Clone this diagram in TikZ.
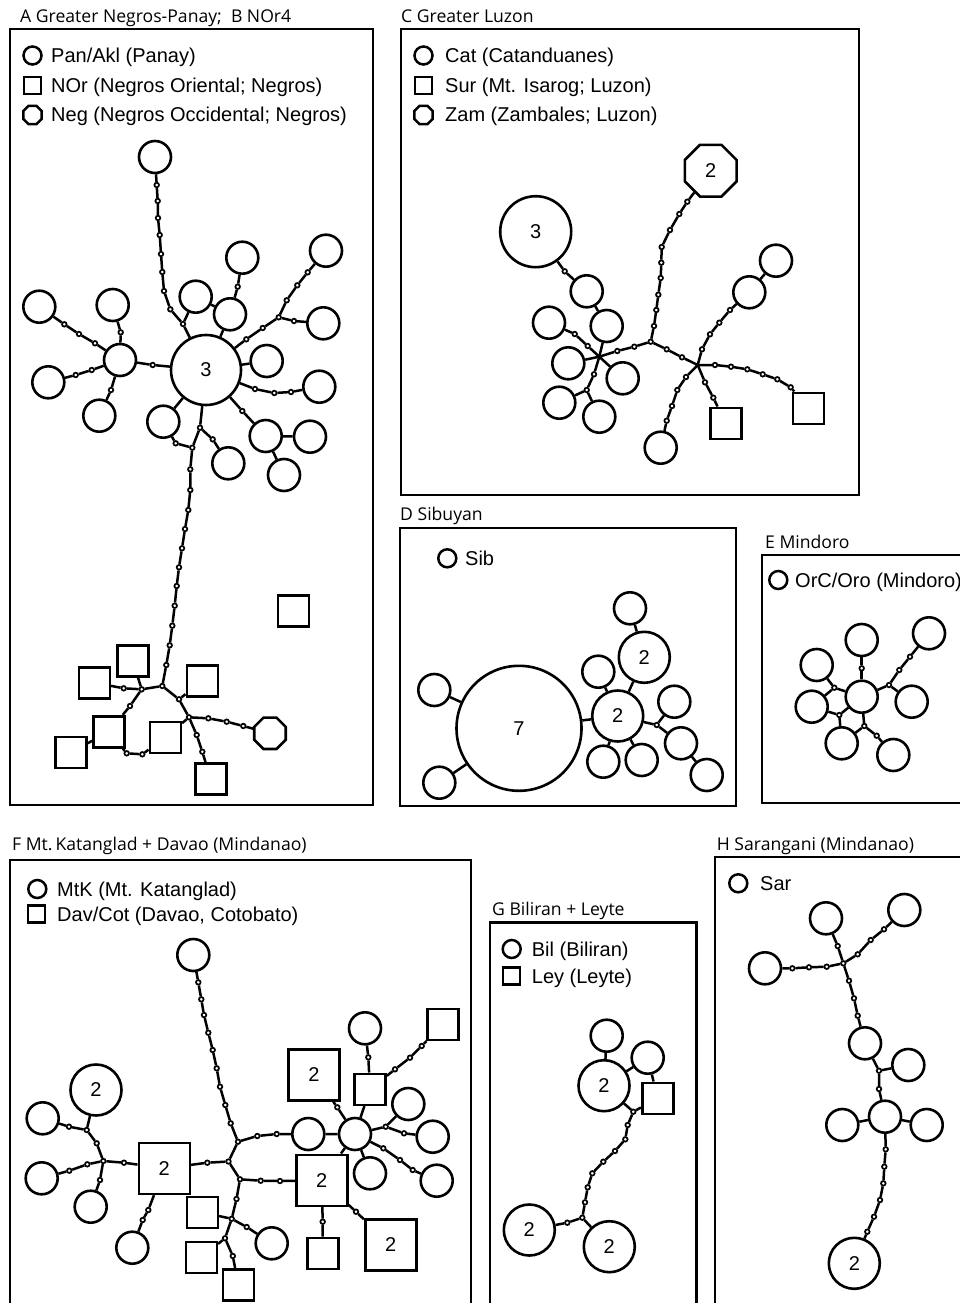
\documentclass[tikz,border=0pt]{standalone}
\usepackage{fontspec}
\setmainfont{Liberation Sans}
\newfontfamily\titlefont{Open Sans}
\usetikzlibrary{shapes.geometric}
\begin{document}
\begin{tikzpicture}[x=1pt,y=-1pt,
  every node/.style={font=\fontsize{20}{24}\selectfont},
  hc/.style={circle,draw,line width=2.6pt,minimum size=32pt,inner sep=0pt,fill=white},
  hcb/.style={hc,minimum size=51pt},
  hsq/.style={rectangle,draw,line width=2.6pt,minimum size=31pt,inner sep=0pt,fill=white},
  hsqb/.style={hsq,minimum size=51pt},
  hoct/.style={regular polygon,regular polygon sides=8,draw,line width=2.6pt,minimum size=34pt,inner sep=0pt,fill=white},
  mu/.style={circle,draw,line width=1.7pt,minimum size=4.6pt,inner sep=0pt,fill=white},
  lnk/.style={line width=2.5pt},
  pfr/.style={line width=2.6pt},
  ttl/.style={anchor=base west,inner sep=0pt,font=\titlefont\fontsize{17.6}{21}\selectfont},
  lgt/.style={anchor=base west,inner sep=0pt},
  lc/.style={circle,draw,line width=2.5pt,minimum size=18pt,inner sep=0pt},
  ls/.style={rectangle,draw,line width=2.5pt,minimum size=17pt,inner sep=0pt},
  lo/.style={regular polygon,regular polygon sides=8,draw,line width=2.5pt,minimum size=20pt,inner sep=0pt},
]
\useasboundingbox (0,0) rectangle (959,1303);
\fill[white] (0,0) rectangle (959,1303);

%================ PANEL A =================
\draw[pfr] (10,29) rectangle (373,805);
\node[ttl] (tA) at (20,23) {A Greater Negros-Panay;\ \ B NOr4};
\node[lc] (lA1) at (32.5,55.5) {};
\node[lgt] (tA1) at (51,62.5) {Pan/Akl (Panay)};
\node[ls] (lA2) at (32.5,85.5) {};
\node[lgt] (tA2) at (51,92.5) {NOr (Negros Oriental; Negros)};
\node[lo] (lA3) at (32.5,115) {};
\node[lgt] (tA3) at (51,122) {Neg (Negros Occidental; Negros)};

\node[hc] (aTop) at (155,157) {};
\node[hc,minimum size=70pt] (aBig) at (206,370) {3};
\foreach \n/\x/\y in {aT1/156.7/185,aT2/157.7/201,aT3/158/218,aT4/159.7/235,aT5/161/254,aT6/162.3/272,aT7/164/291,aT8/170.3/309.3,aT9/183/324,
  aPd/237.7/286.7,aR1/246.3/339.3,aR2/262.7/328,aR3/278.7/317.3,aR4/294/321,aR5/286.7/300.3,aR6/297.3/285.3,aR7/307.7/272.3,
  aE1/255/389,aE2/274.3/393,aE3/291/392,aF1/242.3/411,aL1/200/427.7,aL2/212.7/439.3,aJ/192.3/447.7,aL3/175.7/443.3,
  aQd/152.7/365,aQ1/120.7/332.3,aQ2/95/343.3,aQ3/79/334,aQ4/64.3/324.3,aQ5/91.7/370,aQ6/75.7/375,aQ7/111/390,
  aM1/190.3/469.3,aM2/190.3/490,aM3/188.3/510,aM4/185/529,aM5/182/548.3,aM6/179/567.3,aM7/176.7/586,aM8/174.7/605.7,aM9/172.3/625.7,aM10/169.7/645.3,aM11/166.3/665,
  aB1/162.3/686,aB2/141.7/689.3,aB5/123.7/688.3,aB6/130/706,aB7/126.7/753.3,aB8/142.3/754.3,aB3/179/699.3,aB4/189/717.3,
  aG1/208.3/718.3,aG2/226.7/721.7,aG3/243.3/726,aH1/196.7/735,aH2/202.3/751.7}
  \node[mu] (\n) at (\x,\y) {};
\foreach \n/\x/\y in {aP1/195.7/296.7,aP2/230/314.3,aP3/242.3/257.7,aC1/323.3/323.3,aC2/326/250.7,aC3/266.7/361,aC4/319.3/386.7,
  aC5/265.7/436,aC6/310/436.7,aC7/284/475,aC8/228.3/463.3,aC9/163.3/421.7,aQ/120/360,aC10/112.7/305,aC11/39.3/306.7,aC12/48.3/382.3,aC13/99.3/415.7}
  \node[hc] (\n) at (\x,\y) {};
\foreach \n/\x/\y in {aS1/132.7/660.7,aS2/94.3/682.7,aS3/109/731.7,aS4/71/752.3,aS5/165.3/737.3,aS6/202.3/681,aS7/210.7/779,aS8/293.3/611}
  \node[hsq] (\n) at (\x,\y) {};
\node[hoct] (aO) at (270,733.3) {};

\begin{scope}[lnk]
\draw (aTop)--(aT1)--(aT2)--(aT3)--(aT4)--(aT5)--(aT6)--(aT7)--(aT8)--(aT9)--(aBig);
\draw (aP1)--(aT9);
\draw (aP2)--(aBig);
\draw (aP2)--(aP1);
\draw (aP2)--(aPd)--(aP3);
\draw (aBig)--(aR1)--(aR2)--(aR3)--(aR4)--(aC1);
\draw (aR3)--(aR5)--(aR6)--(aR7)--(aC2);
\draw (aBig)--(aC3);
\draw (aBig)--(aE1)--(aE2)--(aE3)--(aC4);
\draw (aBig)--(aF1)--(aC5)--(aC6);
\draw (aC5)--(aC7);
\draw (aBig)--(aL1)--(aL2)--(aC8);
\draw (aL1)--(aJ)--(aL3)--(aC9)--(aBig);
\draw (aBig)--(aQd)--(aQ);
\draw (aQ)--(aQ1)--(aC10);
\draw (aQ)--(aQ2)--(aQ3)--(aQ4)--(aC11);
\draw (aQ)--(aQ5)--(aQ6)--(aC12);
\draw (aQ)--(aQ7)--(aC13);
\draw (aJ)--(aM1)--(aM2)--(aM3)--(aM4)--(aM5)--(aM6)--(aM7)--(aM8)--(aM9)--(aM10)--(aM11)--(aB1);
\draw (aB1)--(aB2)--(aS1);
\draw (aB2)--(aB5)--(aS2);
\draw (aB2)--(aB6)--(aS3)--(aS4);
\draw (aS3)--(aB7)--(aB8)--(aS5);
\draw (aB1)--(aB3)--(aB4)--(aS5);
\draw (aB3)--(aS6);
\draw (aB4)--(aG1)--(aG2)--(aG3)--(aO);
\draw (aB4)--(aH1)--(aH2)--(aS7);
\end{scope}

%================ PANEL C =================
\draw[pfr] (401,29) rectangle (859,495);
\node[ttl] (tC) at (401,23) {C Greater Luzon};
\node[lc] (lC1) at (423.5,55.5) {};
\node[lgt] (tC1) at (445,62.5) {Cat (Catanduanes)};
\node[ls] (lC2) at (423.5,85.5) {};
\node[lgt] (tC2) at (445,92.5) {Sur (Mt. Isarog; Luzon)};
\node[lo] (lC3) at (423.5,115) {};
\node[lgt] (tC3) at (445,122) {Zam (Zambales; Luzon)};

\node[hoct,minimum size=56pt] (cOct) at (710.7,170.7) {2};
\node[hc,minimum size=71pt] (c3) at (535.7,231.7) {3};
\coordinate (cJ) at (599.3,356.7);
\coordinate (cL) at (697.7,365);
\foreach \n/\x/\y in {cd1/564.7/271.3,cd2/587.7/346,cd3/574.7/334,cd4/594/374.3,cd5/586.7/390,cd6/617.3/351,cd7/634.3/346.7,cK/650.7/341.7,
  cU1/654/326,cU2/656.3/310,cU3/658.3/294.7,cU4/660.7/278,cU5/661.3/262.7,cU6/661.7/247,cU7/670/230,cU8/679.3/214,cU9/687.3/201.7,
  cd8/666.7/349.3,cd9/682/357.3,cV1/702/349.3,cV2/710/334.3,cV3/719.3/322.7,cV4/730/310,
  cW1/715/365,cW2/731/366.7,cW3/747.3/369.3,cW4/762.7/374.3,cW5/777.3/379.3,cW6/790.7/387.3,
  cX1/705/382.3,cX2/713.3/397.7,cY1/686/377,cY2/677.3/390,cY3/672/406,cY4/666.7/420.7}
  \node[mu] (\n) at (\x,\y) {};
\foreach \n/\x/\y in {cC1/586.7/291.3,cC2/606.7/326,cC3/549/322.7,cC4/568.3/363.3,cC5/622.7/378.3,cC6/559.3/402.7,cC7/599.3/416.7,
  cC8/749.3/292.3,cC9/776/260.7,cC10/660.7/447.7}
  \node[hc] (\n) at (\x,\y) {};
\node[hsq] (cS1) at (808.3,408.3) {};
\node[hsq] (cS2) at (725.7,423.3) {};

\begin{scope}[lnk]
\draw (c3)--(cd1)--(cC1)--(cC2)--(cJ);
\draw (cJ)--(cd2)--(cd3)--(cC3);
\draw (cJ)--(cC4);
\draw (cJ)--(cC5);
\draw (cJ)--(cd4)--(cd5)--(cC6);
\draw (cd5)--(cC7);
\draw (cJ)--(cd6)--(cd7)--(cK);
\draw (cK)--(cU1)--(cU2)--(cU3)--(cU4)--(cU5)--(cU6)--(cU7)--(cU8)--(cU9)--(cOct);
\draw (cK)--(cd8)--(cd9)--(cL);
\draw (cL)--(cV1)--(cV2)--(cV3)--(cV4)--(cC8)--(cC9);
\draw (cL)--(cW1)--(cW2)--(cW3)--(cW4)--(cW5)--(cW6)--(cS1);
\draw (cL)--(cX1)--(cX2)--(cS2);
\draw (cL)--(cY1)--(cY2)--(cY3)--(cY4)--(cC10);
\end{scope}

%================ PANEL D =================
\draw[pfr] (400,528) rectangle (736,806);
\node[ttl] (tD) at (400,520) {D Sibuyan};
\node[lc] (lD1) at (447.3,558.3) {};
\node[lgt] (tD1) at (465,565.5) {Sib};

\node[hc,minimum size=125pt] (dBig) at (519,728.3) {7};
\node[hcb] (d2a) at (617.7,716) {2};
\node[hcb] (d2b) at (644.3,657.3) {2};
\foreach \n/\x/\y in {dC1/434.3/690,dC2/439.3/782.7,dC3/630/608.3,dC4/598.3/671.7,dC5/603.3/761.7,dC6/641.7/760,dC7/674.3/701.7,dC8/681/743.3,dC9/706.7/775}
  \node[hc] (\n) at (\x,\y) {};
\node[mu] (dd) at (656.7,725) {};
\begin{scope}[lnk]
\draw (dBig)--(dC1);
\draw (dBig)--(dC2);
\draw (dBig)--(d2a)--(d2b)--(dC3);
\draw (d2a)--(dC4);
\draw (d2a)--(dC5);
\draw (d2a)--(dC6);
\draw (d2a)--(dd)--(dC7);
\draw (dd)--(dC8)--(dC9);
\end{scope}

%================ PANEL E =================
\draw[pfr] (762,555) rectangle (975,803);
\node[ttl] (tE) at (765,548) {E Mindoro};
\node[lc] (lE1) at (778.3,580) {};
\node[lgt] (tE1) at (795,587.5) {OrC/Oro (Mindoro)};

\foreach \n/\x/\y in {eC0/861.7/696.7,eC1/861.7/640,eC2/816.7/665,eC3/811.7/706.7,eC4/841.7/743.3,eC5/893.3/755,eC6/911.7/701.7,eC7/929/633.3}
  \node[hc] (\n) at (\x,\y) {};
\foreach \n/\x/\y in {ed1/861.7/668.3,ed2/834.3/687.7,ed3/839.3/715,ed4/864.3/726,ed5/876.7/735.7,ed6/889/685,ed7/899.3/670,ed8/910/656.7}
  \node[mu] (\n) at (\x,\y) {};
\begin{scope}[lnk]
\draw (eC1)--(ed1)--(eC0);
\draw (eC2)--(ed2)--(eC0);
\draw (eC3)--(ed2);
\draw (eC3)--(ed3)--(eC0);
\draw (ed3)--(eC4);
\draw (eC0)--(ed4)--(ed5)--(eC5);
\draw (ed4)--(eC4);
\draw (eC0)--(ed6)--(eC6);
\draw (ed6)--(ed7)--(ed8)--(eC7);
\end{scope}

%================ PANEL F =================
\draw[pfr] (10,1320) -- (10,860) -- (471,860) -- (471,1320);
\node[ttl] (tF) at (12,850) {F Mt.\,Katanglad + Davao (Mindanao)};
\node[lc] (lF1) at (37.3,889) {};
\node[lgt] (tF1) at (57,896) {MtK (Mt. Katanglad)};
\node[ls] (lF2) at (36.7,914) {};
\node[lgt] (tF2) at (57,921) {Dav/Cot (Davao, Cotobato)};

\foreach \n/\x/\y in {fTop/193.3/955,fC1/308.3/1134,fH/355/1134,fC2/271.7/1243.3,fC3/41.7/1178.3,fC4/42.7/1118.3,fC5/90.7/1206.7,fC6/132.3/1247.7,
  fC7/365/1028.3,fC8/408.3/1104,fC9/432.7/1136.7,fC10/436.7/1180.7,fC11/370/1173.3}
  \node[hc] (\n) at (\x,\y) {};
\node[hcb] (fC2a) at (96,1090) {2};
\node[hsqb] (fS2a) at (164.3,1168.3) {2};
\node[hsqb] (fS2b) at (314,1075) {2};
\node[hsqb] (fS2c) at (321.7,1180.3) {2};
\node[hsqb] (fS2d) at (390.7,1245) {2};
\foreach \n/\x/\y in {fS1/202.3/1212.3,fS3/201.3/1257.3,fS4/238.3/1284.7,fSq/370/1089.3,fSq2/442.7/1024.3,fS5/322.7/1253.3}
  \node[hsq] (\n) at (\x,\y) {};
\foreach \n/\x/\y in {fT1/198.3/982.3,fT2/201.3/999.3,fT3/204/1015,fT4/208.3/1032.7,fT5/212.7/1050,fT6/216.7/1068.3,fT7/220/1086.7,fT8/225.3/1105,fT9/230.7/1123.3,
  fA1/238/1141.7,fA1a/257.3/1136,fA1b/276.7/1134,fA2/228.5/1161.5,fA2a/207.3/1162.7,fA3/240/1179.3,fA3a/260.7/1180.7,fA3b/280/1181,fA3c/236.5/1199,
  fA4/231.7/1218.8,fA4a/246.7/1227,fA5/225/1238.3,fA5a/232.8/1256,
  fB0/124/1162.7,fB1/103.3/1161,fB1a/87.3/1164.3,fB1b/69.3/1170.7,fB1c/96.7/1143.3,fB2/86.7/1130,fB2a/69/1126.7,fB1d/100/1180,fSa/148.3/1210,fSb/142.7/1220,
  fHa/337.3/1107.3,fQa/368.3/1057.3,fQb/395/1069.3,fQc/410/1057.7,fQd/421.7/1046,fHd/385.7/1126.7,fHe/404/1133.3,fHf/383.3/1148.3,fHg/400/1160,fHh/412.7/1170,
  fSc/322.7/1221.7,fSd/356/1211.7}
  \node[mu] (\n) at (\x,\y) {};
\begin{scope}[lnk]
\draw (fTop)--(fT1)--(fT2)--(fT3)--(fT4)--(fT5)--(fT6)--(fT7)--(fT8)--(fT9)--(fA1);
\draw (fA1)--(fA1a)--(fA1b)--(fC1)--(fH);
\draw (fA1)--(fA2)--(fA2a)--(fS2a);
\draw (fA2)--(fA3)--(fA3a)--(fA3b)--(fS2c);
\draw (fA3)--(fA3c)--(fA4)--(fS1);
\draw (fA4)--(fA4a)--(fC2);
\draw (fA4)--(fA5)--(fS3);
\draw (fA5)--(fA5a)--(fS4);
\draw (fS2a)--(fB0)--(fB1)--(fB1a)--(fB1b)--(fC3);
\draw (fB1)--(fB1c)--(fB2)--(fC2a);
\draw (fB2)--(fB2a)--(fC4);
\draw (fB1)--(fB1d)--(fC5);
\draw (fS2a)--(fSa)--(fSb)--(fC6);
\draw (fS2b)--(fHa)--(fH);
\draw (fSq)--(fH);
\draw (fSq)--(fQa)--(fC7);
\draw (fSq)--(fQb)--(fQc)--(fQd)--(fSq2);
\draw (fH)--(fHd)--(fC8);
\draw (fHd)--(fHe)--(fC9);
\draw (fH)--(fHf)--(fHg)--(fHh)--(fC10);
\draw (fH)--(fC11);
\draw (fH)--(fS2c);
\draw (fS2c)--(fSc)--(fS5);
\draw (fS2c)--(fSd)--(fS2d);
\end{scope}

%================ PANEL G =================
\draw[pfr] (490,1320) -- (490,922.7) -- (696.7,922.7) -- (696.7,1320);
\node[ttl] (tG) at (492,915) {G Biliran + Leyte};
\node[lc] (lG1) at (511.7,949) {};
\node[lgt] (tG1) at (531.7,956) {Bil (Biliran)};
\node[ls] (lG2) at (511.7,976) {};
\node[lgt] (tG2) at (531.7,983) {Ley (Leyte)};

\node[hc] (gC1) at (606.7,1035.7) {};
\node[hc] (gC2) at (647.7,1057.7) {};
\node[hcb] (g2a) at (604,1085.7) {2};
\node[hsq] (gS) at (657.7,1098.3) {};
\node[hcb] (g2b) at (529.3,1230) {2};
\node[hcb] (g2c) at (609.3,1246.7) {2};
\foreach \n/\x/\y in {gd0/633.3/1111.7,gd1/627.7/1125,gd2/625.3/1139.3,gd3/615/1151,gd4/603.3/1161.7,gd5/592.3/1173.3,gd6/587.7/1187.3,gd7/585/1202.3,gJ/582.3/1217.7,gd8/567.3/1222.7}
  \node[mu] (\n) at (\x,\y) {};
\begin{scope}[lnk]
\draw (gC1)--(g2a);
\draw (gC2)--(g2a);
\draw (gC2)--(gS);
\draw (g2a)--(gd0);
\draw (gS)--(gd0);
\draw (gd0)--(gd1)--(gd2)--(gd3)--(gd4)--(gd5)--(gd6)--(gd7)--(gJ);
\draw (gJ)--(gd8)--(g2b);
\draw (gJ)--(g2c);
\end{scope}

%================ PANEL H =================
\draw[pfr] (715,1320) -- (715,857) -- (975,857);
\node[ttl] (tH) at (716.7,850) {H Sarangani (Mindanao)};
\node[lc] (lH1) at (738.3,883.3) {};
\node[lgt] (tH1) at (760,890.3) {Sar};

\foreach \n/\x/\y in {hC1/826/918.3,hC2/904.3/910,hC3/765/968.3,hC4/865/1043.3,hC5/908.3/1065,hHub/885/1116.7,hC6/842.3/1125,hC7/926.7/1125}
  \node[hc] (\n) at (\x,\y) {};
\node[hcb] (h2) at (854.3,1263.3) {2};
\foreach \n/\x/\y in {hJ/843.3/963.3,ha1/837.7/946,hb1/884/929.3,hb2/870.7/940,hb3/857.7/954.3,hc1/792.3/968.3,hc2/809/967.3,hc3/826.7/966.7,
  hd1/849/980.7,hd2/854/998.3,hd3/857.7/1015.7,he1/879/1070.7,he2/879/1089,
  hf1/885.7/1149.3,hf2/884.3/1166.7,hf3/883.3/1183.3,hf4/880/1200,hf5/874/1216.7,hf6/867.3/1231.7}
  \node[mu] (\n) at (\x,\y) {};
\begin{scope}[lnk]
\draw (hC1)--(ha1)--(hJ);
\draw (hC2)--(hb1)--(hb2)--(hb3)--(hJ);
\draw (hC3)--(hc1)--(hc2)--(hc3)--(hJ);
\draw (hJ)--(hd1)--(hd2)--(hd3)--(hC4);
\draw (hC4)--(he1)--(hC5);
\draw (he1)--(he2)--(hHub);
\draw (hHub)--(hC6);
\draw (hHub)--(hC7);
\draw (hHub)--(hf1)--(hf2)--(hf3)--(hf4)--(hf5)--(hf6)--(h2);
\end{scope}
\end{tikzpicture}
\end{document}
